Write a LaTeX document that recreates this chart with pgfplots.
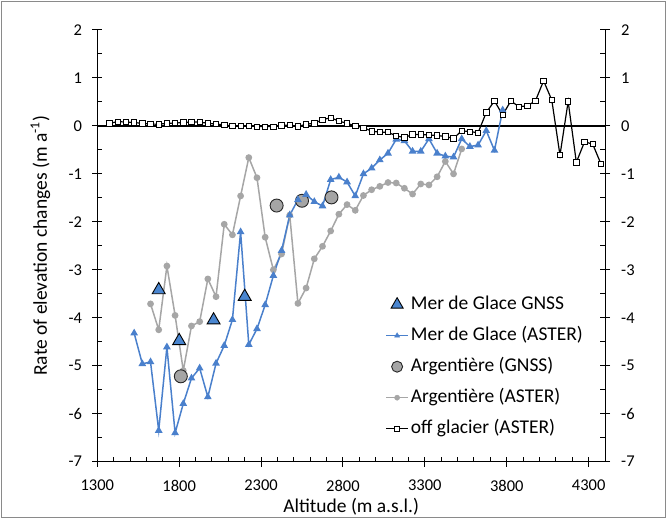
\documentclass[border=0pt]{standalone}
\usepackage{fontspec}
\setmainfont{Carlito}
\usepackage{pgfplots}
\pgfplotsset{compat=1.18}

\definecolor{blueline}{HTML}{4A80CC}
\definecolor{bluefill}{HTML}{4A86D0}
\definecolor{greyline}{HTML}{A6A6A6}
\definecolor{circfill}{HTML}{A5A5A5}
\definecolor{frame}{HTML}{8A8A8A}

\newcommand{\tickfont}{\fontsize{16.5bp}{19bp}\selectfont}
\newcommand{\labfont}{\fontsize{19.5bp}{23bp}\selectfont}
\newcommand{\legfont}{\fontsize{19.5bp}{23bp}\selectfont}

\begin{document}
\begin{tikzpicture}[x=1bp,y=1bp]
\useasboundingbox (0,0) rectangle (667,519);
\draw[frame, line width=1.5bp] (1.5,1.5) rectangle (665.5,517.5);

% left axis, data and legend
\begin{axis}[
    at={(97.3bp,57.3bp)}, anchor=south west,
    scale only axis, width=507.7bp, height=431.7bp,
    xmin=1300, xmax=4400, ymin=-7, ymax=2,
    axis x line*=bottom, axis y line*=left,
    axis line style={black, line width=1bp},
    xtick={1300,1800,...,4300}, minor x tick num=4,
    ytick={-7,-6,...,2}, minor y tick num=1,
    tick align=inside, major tick length=5bp, minor tick length=5bp,
    tick style={black, line width=1bp},
    extra x ticks={1300,1800,...,4300}, extra x tick labels={},
    extra x tick style={tick align=outside},
    extra y ticks={-7,-6,...,2}, extra y tick labels={},
    extra y tick style={tick align=outside},
    /pgf/number format/assume math mode=true,
    /pgf/number format/1000 sep={},
    xticklabel style={font=\tickfont, inner sep=0pt, anchor=north, yshift=-18bp},
    yticklabel style={font=\tickfont, inner sep=0pt, anchor=east, xshift=-15bp},
    xlabel={Altitude (m a.s.l.)},
    ylabel={Rate of elevation changes (m a\textsuperscript{-1})},
    every axis x label/.style={at={(axis description cs:0.5,0)}, yshift=-45bp, anchor=center, font=\labfont},
    every axis y label/.style={at={(axis description cs:0,0.5)}, xshift=-57bp, rotate=90, anchor=center, font=\labfont},
    legend cell align=left,
    legend style={at={(rel axis cs:0.567,0.385)}, anchor=north west,
        draw=none, fill=none, font=\legfont, inner sep=0pt,
        row sep=13bp, column sep=2bp,
        nodes={inner sep=0pt, text height=14bp, text depth=4bp}},
]
\draw[black, line width=1.3bp] (axis cs:1300,0) -- (axis cs:4400,0);

% Argentiere (ASTER)
\addplot[forget plot, greyline, line width=1.5bp, mark=*, mark size=2.6bp,
    mark options={fill=greyline, draw=greyline}] table {
alt val
1625 -3.71
1675 -4.25
1725 -2.92
1775 -3.95
1825 -5.10
1875 -4.17
1925 -4.08
1975 -3.19
2025 -3.56
2075 -2.05
2125 -2.27
2175 -1.46
2225 -0.66
2275 -1.08
2325 -2.32
2375 -3.00
2425 -2.67
2475 -1.86
2525 -3.70
2575 -3.38
2625 -2.77
2675 -2.51
2725 -2.19
2775 -1.84
2825 -1.64
2875 -1.76
2925 -1.45
2975 -1.33
3025 -1.26
3075 -1.18
3125 -1.19
3175 -1.30
3225 -1.42
3275 -1.21
3325 -1.23
3375 -1.06
3425 -0.74
3475 -1.00
3525 -0.48
};

% Argentiere (GNSS)
\addplot[forget plot, only marks, mark=*, mark size=6.5bp,
    mark options={fill=circfill, draw=black!85, line width=0.9bp}] table {
alt val
1810 -5.22
2395 -1.66
2550 -1.56
2730 -1.49
};

% Mer de Glace (ASTER)
\addplot[forget plot, blueline, line width=1.5bp, mark=triangle*, mark size=3bp,
    mark options={fill=blueline, draw=blueline}] table {
alt val
1525 -4.32
1575 -4.96
1625 -4.92
1675 -6.35
1725 -4.61
1775 -6.40
1825 -5.79
1875 -5.26
1925 -5.05
1975 -5.65
2025 -4.95
2075 -4.58
2125 -4.04
2175 -2.21
2225 -4.56
2275 -4.23
2325 -3.73
2375 -3.12
2425 -2.60
2475 -1.86
2525 -1.54
2575 -1.43
2625 -1.58
2675 -1.67
2725 -1.12
2775 -1.07
2825 -1.17
2875 -1.46
2925 -1.00
2975 -0.88
3025 -0.71
3075 -0.57
3125 -0.28
3175 -0.31
3225 -0.53
3275 -0.53
3325 -0.27
3375 -0.57
3425 -0.63
3475 -0.65
3525 -0.27
3575 -0.43
3625 -0.40
3675 -0.10
3725 -0.51
3775 0.33
};

% Mer de Glace GNSS
\addplot[forget plot, only marks, mark=triangle*, mark size=7.5bp,
    mark options={fill=bluefill, draw=black, line width=0.9bp}] table {
alt val
1675 -3.42
1800 -4.48
2010 -4.05
2200 -3.56
};

% off glacier (ASTER)
\addplot[forget plot, black, line width=1.2bp, mark=square*, mark size=2.7bp,
    mark options={fill=white, draw=black, line width=0.8bp}] table {
alt val
1375 0.055
1425 0.09
1475 0.08
1525 0.07
1575 0.055
1625 0.04
1675 0.035
1725 0.055
1775 0.06
1825 0.07
1875 0.08
1925 0.08
1975 0.055
2025 0.04
2075 0.02
2125 0.0
2175 0.0
2225 0.0
2275 -0.015
2325 -0.015
2375 -0.015
2425 0.01
2475 0.02
2525 -0.01
2575 0.035
2625 0.055
2675 0.13
2725 0.17
2775 0.10
2825 0.055
2875 0.0
2925 -0.035
2975 -0.11
3025 -0.13
3075 -0.13
3125 -0.21
3175 -0.24
3225 -0.18
3275 -0.18
3325 -0.19
3375 -0.20
3425 -0.22
3475 -0.26
3525 -0.10
3575 -0.12
3625 -0.14
3675 0.28
3725 0.52
3775 0.23
3825 0.52
3875 0.40
3925 0.42
3975 0.52
4025 0.94
4075 0.54
4125 -0.61
4175 0.51
4225 -0.76
4275 -0.33
4325 -0.38
4375 -0.79
};

\addlegendimage{legend image code/.code={
    \draw plot[mark=triangle*, mark size=7bp, mark options={fill=bluefill, draw=black, line width=0.9bp}] coordinates {(11bp,0bp)};}}
\addlegendentry{Mer de Glace GNSS}
\addlegendimage{legend image code/.code={
    \draw[blueline, line width=1.5bp] (0bp,0bp) -- (22bp,0bp);
    \draw plot[mark=triangle*, mark size=3bp, mark options={fill=blueline, draw=blueline}] coordinates {(11bp,0bp)};}}
\addlegendentry{Mer de Glace (ASTER)}
\addlegendimage{legend image code/.code={
    \draw plot[mark=*, mark size=5.5bp, mark options={fill=circfill, draw=black!85, line width=0.9bp}] coordinates {(11bp,0bp)};}}
\addlegendentry{Argentière (GNSS)}
\addlegendimage{legend image code/.code={
    \draw[greyline, line width=1.5bp] (0bp,0bp) -- (22bp,0bp);
    \draw plot[mark=*, mark size=2.6bp, mark options={fill=greyline, draw=greyline}] coordinates {(11bp,0bp)};}}
\addlegendentry{Argentière (ASTER)}
\addlegendimage{legend image code/.code={
    \draw[black, line width=1.2bp] (0bp,0bp) -- (22bp,0bp);
    \draw plot[mark=square*, mark size=2.7bp, mark options={fill=white, draw=black, line width=0.8bp}] coordinates {(11bp,0bp)};}}
\addlegendentry{off glacier (ASTER)}
\end{axis}

% right axis
\begin{axis}[
    at={(97.3bp,57.3bp)}, anchor=south west,
    scale only axis, width=507.7bp, height=431.7bp,
    xmin=1300, xmax=4400, ymin=-7, ymax=2,
    axis x line=none, axis y line*=right,
    axis line style={black, line width=1bp},
    ytick={-7,-6,...,2}, minor y tick num=1,
    tick align=inside, major tick length=5bp, minor tick length=5bp,
    tick style={black, line width=1bp},
    extra y ticks={-7,-6,...,2}, extra y tick labels={},
    extra y tick style={tick align=outside},
    /pgf/number format/assume math mode=true,
    yticklabel style={font=\tickfont, inner sep=0pt, anchor=west, xshift=16bp},
]
\end{axis}
\end{tikzpicture}
\end{document}
